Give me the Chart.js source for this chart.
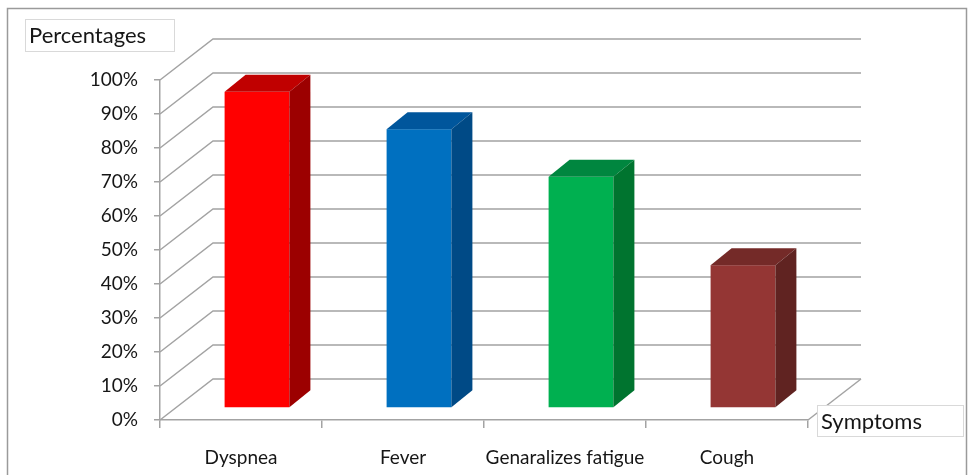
<!DOCTYPE html>
<html>
<head>
<meta charset="utf-8">
<script src="https://cdn.jsdelivr.net/npm/chart.js@4.4.1/dist/chart.umd.min.js"></script>
<style>
  html, body { margin: 0; padding: 0; background: #ffffff; }
  #wrap { width: 971px; height: 475px; position: relative; }
</style>
</head>
<body>
<div id="wrap"><canvas id="chart" width="971" height="475"></canvas></div>
<script>
// Symptom frequencies (percent of patients)
const symptoms = ['Dyspnea', 'Fever', 'Genaralizes fatigue', 'Cough'];
const percentages = [93, 82, 68, 42];
const yTickValues = [0, 10, 20, 30, 40, 50, 60, 70, 80, 90, 100];

const yTitle = 'Percentages';
const xTitle = 'Symptoms';

// Face colours for each bar: front, top, side
const frontColors = ['#ff0000', '#0070c0', '#00b050', '#943634'];
const topColors   = ['#c00000', '#00569c', '#00863f', '#742a28'];
const sideColors  = ['#9c0000', '#004a86', '#00742f', '#602321'];

const FONT = 'Lato, "Liberation Sans", sans-serif';
const TEXT = '#161616';
const GRID = '#a3a3a3';

// 3D projection offsets
const WALL = { dx: 53, dy: -41 };      // depth of the back wall
const BAR_SHIFT = { dx: 16, dy: -12 }; // bars sit partway into the floor
const BAR_DEPTH = { dx: 21, dy: -17 }; // thickness of each bar

const threeD = {
  id: 'threeD',
  beforeDraw(chart) {
    const ctx = chart.ctx;
    ctx.save();
    ctx.fillStyle = '#ffffff';
    ctx.fillRect(0, 0, chart.width, chart.height);
    ctx.strokeStyle = '#9a9a9a';
    ctx.lineWidth = 1.5;
    ctx.strokeRect(7.5, 8.5, 959, 520);
    ctx.restore();
  },
  beforeDatasetsDraw(chart) {
    const ctx = chart.ctx;
    const ys = chart.scales.y;
    const { left, right, bottom } = chart.chartArea;
    ctx.save();
    ctx.strokeStyle = GRID;
    ctx.lineWidth = 1.5;
    // Side wall diagonals and back wall lines
    yTickValues.forEach(v => {
      const y = ys.getPixelForValue(v);
      ctx.beginPath();
      ctx.moveTo(left, y);
      ctx.lineTo(left + WALL.dx, y + WALL.dy);
      ctx.lineTo(right + WALL.dx, y + WALL.dy);
      ctx.stroke();
    });
    // Right edge of the floor
    ctx.beginPath();
    ctx.moveTo(right, bottom);
    ctx.lineTo(right + WALL.dx, bottom + WALL.dy);
    ctx.stroke();

    // Bars as boxes built from the bar elements
    const meta = chart.getDatasetMeta(0);
    meta.data.forEach((el, i) => {
      const p = el.getProps(['x', 'y', 'base', 'width'], true);
      const l = p.x - p.width / 2 + BAR_SHIFT.dx;
      const r = p.x + p.width / 2 + BAR_SHIFT.dx;
      const t = p.y + BAR_SHIFT.dy;
      const b = p.base + BAR_SHIFT.dy;
      // front
      ctx.fillStyle = frontColors[i];
      ctx.fillRect(l, t, r - l, b - t);
      // top
      ctx.fillStyle = topColors[i];
      ctx.beginPath();
      ctx.moveTo(l, t);
      ctx.lineTo(l + BAR_DEPTH.dx, t + BAR_DEPTH.dy);
      ctx.lineTo(r + BAR_DEPTH.dx, t + BAR_DEPTH.dy);
      ctx.lineTo(r, t);
      ctx.closePath();
      ctx.fill();
      // side
      ctx.fillStyle = sideColors[i];
      ctx.beginPath();
      ctx.moveTo(r, t);
      ctx.lineTo(r + BAR_DEPTH.dx, t + BAR_DEPTH.dy);
      ctx.lineTo(r + BAR_DEPTH.dx, b + BAR_DEPTH.dy);
      ctx.lineTo(r, b);
      ctx.closePath();
      ctx.fill();
    });
    ctx.restore();
    return false;
  },
  afterDraw(chart) {
    const ctx = chart.ctx;
    ctx.save();
    const box = (x, y, w, h, text, fs) => {
      ctx.fillStyle = '#ffffff';
      ctx.fillRect(x, y, w, h);
      ctx.strokeStyle = '#d9d9d9';
      ctx.lineWidth = 1;
      ctx.strokeRect(x + 0.5, y + 0.5, w, h);
      ctx.fillStyle = TEXT;
      ctx.font = fs + 'px ' + FONT;
      ctx.textBaseline = 'middle';
      ctx.textAlign = 'left';
      ctx.fillText(text, x + 4, y + h / 2 + 1);
    };
    box(25, 19, 149, 32, yTitle, 22);
    box(817, 405, 146, 31, xTitle, 22);
    ctx.restore();
  }
};

new Chart(document.getElementById('chart'), {
  type: 'bar',
  data: {
    labels: symptoms,
    datasets: [{
      label: yTitle,
      data: percentages,
      backgroundColor: frontColors,
      categoryPercentage: 1,
      barPercentage: 0.4
    }]
  },
  options: {
    responsive: false,
    animation: false,
    layout: { padding: { left: 0, right: 163, top: 80, bottom: 0 } },
    plugins: { legend: { display: false }, tooltip: { enabled: false } },
    scales: {
      x: {
        grid: { display: true, drawOnChartArea: false, drawTicks: true, tickLength: 8, color: GRID, lineWidth: 1.5 },
        border: { display: true, color: GRID, width: 1.5 },
        ticks: { font: { family: FONT, size: 19 }, color: TEXT, padding: 18, maxRotation: 0 },
        afterFit(scale) { scale.height = 55; }
      },
      y: {
        min: 0,
        max: 100,
        afterBuildTicks(scale) { scale.ticks = yTickValues.map(v => ({ value: v })); },
        grid: { display: true, drawOnChartArea: false, drawTicks: true, tickLength: 6, color: GRID, lineWidth: 1.5 },
        border: { display: true, color: GRID, width: 1.5 },
        ticks: { font: { family: FONT, size: 19 }, color: TEXT, padding: 16, callback: v => v + '%' },
        afterFit(scale) { scale.width = 160; }
      }
    }
  },
  plugins: [threeD]
});
</script>
</body>
</html>
